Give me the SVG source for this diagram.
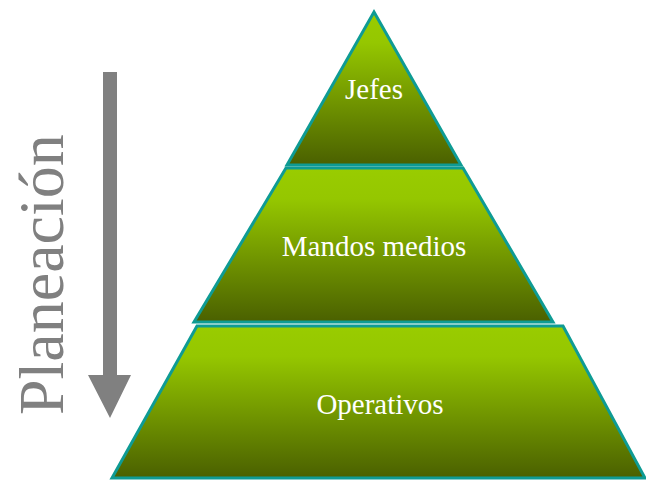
<svg xmlns="http://www.w3.org/2000/svg" width="646" height="481" viewBox="0 0 646 481">
<defs>
<linearGradient id="g" x1="0" y1="0" x2="0" y2="1">
<stop offset="0" stop-color="#99cc00"/>
<stop offset="0.2" stop-color="#95c700"/>
<stop offset="1" stop-color="#4a6000"/>
</linearGradient>
</defs>
<style>
.tier{fill:url(#g);stroke:#0e9b94;stroke-width:3;stroke-linejoin:miter}
.lbl{font-family:"Liberation Serif","DejaVu Serif",serif;font-size:29px;fill:#ffffff;text-anchor:middle}
</style>
<rect width="646" height="481" fill="#ffffff"/>
<g id="operativos">
<polygon class="tier" points="197,326 563,326 645,478 112,478"/>
<text class="lbl" x="380" y="414">Operativos</text>
</g>
<g id="mandos">
<polygon class="tier" points="286,168 463,168 553,322 194,322"/>
<text class="lbl" x="374" y="256">Mandos medios</text>
</g>
<g id="jefes">
<polygon class="tier" points="374,12 461,165 287,165"/>
<text class="lbl" x="374" y="99">Jefes</text>
</g>
<g id="connectors">
<polygon points="103,72 117,72 117,375 131,375 110,418 88,375 103,375" fill="#808080"/>
</g>
<g id="planeacion">
<text transform="translate(63,415) rotate(-90)" x="0" y="0" font-family="'Liberation Serif','DejaVu Serif',serif" font-size="64" fill="#808080">Planeación</text>
</g>
</svg>
